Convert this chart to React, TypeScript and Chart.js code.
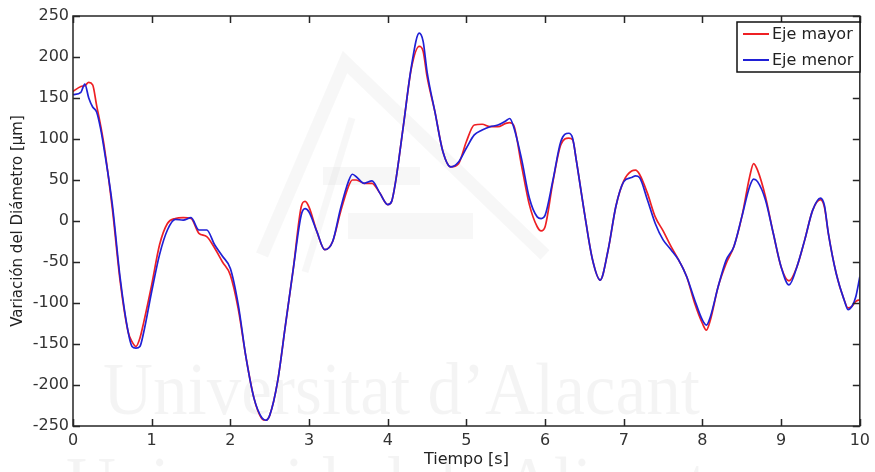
import React, { useEffect, useRef } from "react";
import { Chart, registerables } from "chart.js";

Chart.register(...registerables);

const times = [
  0, 0.1, 0.15, 0.2, 0.25, 0.3, 0.35, 0.4, 0.5, 0.6,
  0.7, 0.75, 0.8, 0.85, 0.9, 1.0, 1.1, 1.2, 1.3, 1.4,
  1.5, 1.6, 1.7, 1.8, 1.9, 2.0, 2.1, 2.2, 2.3, 2.4,
  2.45, 2.5, 2.6, 2.7, 2.8, 2.9, 2.95, 3.0, 3.1, 3.2,
  3.3, 3.4, 3.5, 3.55, 3.6, 3.7, 3.8, 3.9, 4.0, 4.05,
  4.1, 4.2, 4.3, 4.4, 4.45, 4.5, 4.6, 4.7, 4.8, 4.9,
  5.0, 5.1, 5.2, 5.3, 5.4, 5.5, 5.55, 5.6, 5.7, 5.8,
  5.9, 5.95, 6.0, 6.1, 6.2, 6.3, 6.35, 6.4, 6.5, 6.6,
  6.7, 6.8, 6.9, 7.0, 7.1, 7.15, 7.2, 7.3, 7.4, 7.5,
  7.6, 7.7, 7.8, 7.9, 8.0, 8.05, 8.1, 8.2, 8.3, 8.4,
  8.5, 8.6, 8.65, 8.7, 8.8, 8.9, 9.0, 9.1, 9.2, 9.3,
  9.4, 9.5, 9.55, 9.6, 9.7, 9.8, 9.85, 9.9, 9.95, 10.0,
];

const ejeMayor = [
  158, 164, 165, 169, 166, 141, 117, 89, 15, -74,
  -135, -147, -153, -143, -123, -78, -29, -3, 3, 4,
  3, -15, -19, -33, -50, -66, -107, -167, -216, -241,
  -243, -237, -196, -127, -58, 17, 24, 17, -13, -35,
  -25, 11, 42, 50, 50, 46, 46, 34, 20, 24,
  48, 117, 186, 213, 207, 176, 133, 85, 66, 70,
  97, 117, 118, 115, 115, 119, 120, 117, 68, 20,
  -7, -12, -7, 48, 93, 101, 99, 72, 10, -46,
  -72, -36, 18, 49, 61, 62, 57, 34, 5, -12,
  -31, -48, -68, -100, -125, -133, -121, -80, -52, -31,
  5, 54, 70, 62, 30, -15, -56, -73, -56, -23,
  13, 26, 17, -15, -64, -96, -106, -104, -98, -96,
];

const ejeMenor = [
  154, 157, 167, 150, 139, 133, 113, 85, 20, -70,
  -135, -153, -155, -153, -135, -86, -41, -11, 2, 1,
  4, -11, -11, -29, -43, -58, -102, -167, -216, -240,
  -243, -237, -196, -127, -58, 7, 15, 11, -13, -35,
  -25, 15, 48, 57, 54, 46, 49, 34, 20, 24,
  48, 117, 188, 229, 219, 182, 133, 85, 66, 72,
  89, 105, 111, 115, 117, 122, 125, 115, 76, 28,
  5, 3, 7, 50, 97, 107, 101, 72, 10, -46,
  -72, -36, 18, 48, 53, 55, 53, 26, -3, -23,
  -35, -48, -68, -96, -121, -127, -117, -80, -48, -31,
  5, 42, 51, 48, 26, -15, -56, -78, -56, -23,
  13, 28, 19, -15, -64, -96, -108, -104, -92, -68,
];

const seriesNames = ["Eje mayor", "Eje menor"];
const seriesColors = ["rgb(238,32,36)", "rgb(32,32,214)"];
const xTitle = "Tiempo [s]";
const yTitle = "Variación del Diámetro [μm]";
const watermarkLines = ["Universitat d\u2019Alacant", "Universidad de Alicante"];

const FONT = "'DejaVu Sans', 'Liberation Sans', Arial, sans-serif";

const decorPlugin = {
  id: "decor",
  beforeDraw(chart: any) {
    const ctx = chart.ctx;
    ctx.save();
    // faint logo
    ctx.strokeStyle = "rgba(0,0,0,0.03)";
    ctx.lineWidth = 13;
    ctx.beginPath();
    ctx.moveTo(262, 255);
    ctx.lineTo(345, 62);
    ctx.lineTo(545, 255);
    ctx.stroke();
    ctx.lineWidth = 7;
    ctx.beginPath();
    ctx.moveTo(305, 272);
    ctx.lineTo(352, 118);
    ctx.stroke();
    ctx.fillStyle = "rgba(0,0,0,0.03)";
    ctx.fillRect(323, 167, 97, 18);
    ctx.fillRect(348, 213, 125, 26);
    // watermark text
    ctx.fillStyle = "rgba(0,0,0,0.045)";
    ctx.font = "74px 'Liberation Serif', 'DejaVu Serif', serif";
    ctx.textBaseline = "alphabetic";
    ctx.textAlign = "left";
    const w1 = ctx.measureText(watermarkLines[0]).width;
    ctx.save();
    ctx.translate(103, 414);
    ctx.scale(597 / w1, 1);
    ctx.fillText(watermarkLines[0], 0, 0);
    ctx.restore();
    ctx.save();
    ctx.translate(66, 508);
    ctx.scale(597 / w1, 1);
    ctx.fillText(watermarkLines[1], 0, 0);
    ctx.restore();
    ctx.restore();
  },
  afterDraw(chart: any) {
    const ctx = chart.ctx;
    const { left, right, top, bottom } = chart.chartArea;
    const xs = chart.scales.x;
    const ys = chart.scales.y;
    ctx.save();
    ctx.strokeStyle = "#262626";
    ctx.lineWidth = 1.5;
    ctx.strokeRect(left, top, right - left, bottom - top);
    const tl = 7;
    ctx.beginPath();
    xs.ticks.forEach((t: any) => {
      const px = Math.round(xs.getPixelForValue(t.value)) + 0.5;
      ctx.moveTo(px, bottom);
      ctx.lineTo(px, bottom - tl);
      ctx.moveTo(px, top);
      ctx.lineTo(px, top + tl);
    });
    ys.ticks.forEach((t: any) => {
      const py = Math.round(ys.getPixelForValue(t.value)) + 0.5;
      ctx.moveTo(left, py);
      ctx.lineTo(left + tl, py);
      ctx.moveTo(right, py);
      ctx.lineTo(right - tl, py);
    });
    ctx.stroke();

    // legend
    const lx = 737, ly = 22, lw = 123, lh = 50;
    ctx.fillStyle = "#ffffff";
    ctx.fillRect(lx, ly, lw, lh);
    ctx.strokeStyle = "#111";
    ctx.lineWidth = 1.5;
    ctx.strokeRect(lx, ly, lw, lh);
    ctx.font = "16px " + FONT;
    ctx.textBaseline = "middle";
    ctx.textAlign = "left";
    seriesNames.forEach((name, i) => {
      const cy = ly + 12 + i * 26;
      ctx.strokeStyle = seriesColors[i];
      ctx.lineWidth = 2;
      ctx.beginPath();
      ctx.moveTo(lx + 6, cy);
      ctx.lineTo(lx + 32, cy);
      ctx.stroke();
      ctx.fillStyle = "#222";
      ctx.fillText(name, lx + 35, cy + 1);
    });
    ctx.restore();
  },
};

export default function App() {
  const ref = useRef<HTMLCanvasElement | null>(null);
  useEffect(() => {
    document.body.style.margin = "0";
    const canvas = ref.current;
    if (!canvas) return;
    const mk = (vals: number[]) => times.map((t, i) => ({ x: t, y: vals[i] }));
    const chart = new Chart(canvas, {
      type: "line",
      data: {
        datasets: [
          {
            label: seriesNames[0],
            data: mk(ejeMayor),
            borderColor: seriesColors[0],
            borderWidth: 1.7,
            pointRadius: 0,
            cubicInterpolationMode: "monotone",
            fill: false,
            order: 1,
          },
          {
            label: seriesNames[1],
            data: mk(ejeMenor),
            borderColor: seriesColors[1],
            borderWidth: 1.7,
            pointRadius: 0,
            cubicInterpolationMode: "monotone",
            fill: false,
            order: 0,
          },
        ],
      },
      options: {
        animation: false,
        responsive: false,
        maintainAspectRatio: false,
        layout: { padding: { top: 16, right: 11, left: 0, bottom: 0 } },
        plugins: { legend: { display: false }, tooltip: { enabled: false } },
        scales: {
          x: {
            type: "linear",
            min: 0,
            max: 10,
            ticks: { stepSize: 1, color: "#333", font: { size: 16, family: FONT }, padding: 5, maxRotation: 0 },
            grid: { display: false, drawTicks: false },
            border: { display: false },
            title: { display: true, text: xTitle, color: "#222", font: { size: 16, family: FONT }, padding: { top: 0, bottom: 3 } },
            afterFit: (s: any) => { s.height = 46; },
          },
          y: {
            type: "linear",
            min: -250,
            max: 250,
            ticks: { stepSize: 50, color: "#333", font: { size: 16, family: FONT }, padding: 4 },
            grid: { display: false, drawTicks: false },
            border: { display: false },
            title: { display: true, text: yTitle, color: "#222", font: { size: 15, family: FONT }, padding: { top: 9, bottom: 0 } },
            afterFit: (s: any) => { s.width = 73; },
          },
        },
      },
      plugins: [decorPlugin],
    });
    return () => chart.destroy();
  }, []);
  return (
    <div style={{ width: 875, height: 472, background: "#fff" }}>
      <canvas ref={ref} width={875} height={472} />
    </div>
  );
}
